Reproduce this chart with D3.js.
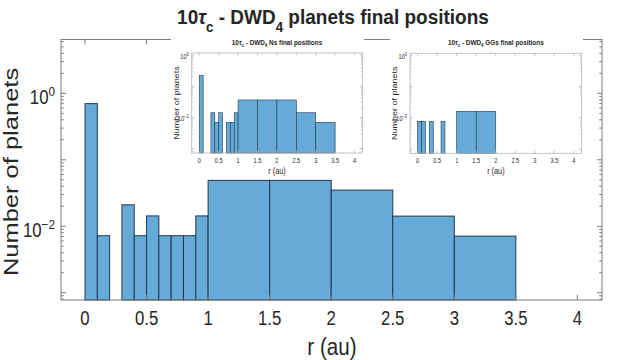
<!DOCTYPE html>
<html>
<head>
<meta charset="utf-8">
<script src="https://cdn.jsdelivr.net/npm/d3@7"></script>
<style>
  body { margin: 0; background: #fff; }
  svg { display: block; font-family: "Liberation Sans", Arial, sans-serif; }
</style>
</head>
<body>
<svg id="chart" width="622" height="360"></svg>
<script>
// histogram bin edges (au)
const binEdges = [0, 0.1, 0.2, 0.3, 0.4, 0.5, 0.6, 0.7, 0.8, 0.9, 1, 1.5, 2, 2.5, 3, 3.5];
// fraction of planets per bin
const allValues = [0.70, 0.0072, 0, 0.021, 0.0072, 0.0143, 0.0072, 0.0072, 0.0072, 0.0143, 0.049, 0.049, 0.035, 0.0142, 0.0071];
const nsValues  = [0.22, 0, 0, 0.014, 0.0069, 0.014, 0, 0.0069, 0.0069, 0.014, 0.036, 0.036, 0.036, 0.014, 0.0069];
const ggValues  = [0.0076, 0.0076, 0, 0.0076, 0, 0, 0.0076, 0, 0, 0, 0.0158, 0.0158, 0, 0, 0];
const xTickValues = [0, 0.5, 1, 1.5, 2, 2.5, 3, 3.5, 4];
const yLabelDecades = [0, -2];

const svg = d3.select("#chart");
const fill = "#66aad7", edge = "#1f3952", textCol = "#262626";

function bins(values) {
  return values.map((v, i) => ({ x0: binEdges[i], x1: binEdges[i + 1], v })).filter(d => d.v > 0);
}

// texte avec indices / exposants
function rich(sel, parts, size, shift) {
  let off = 0;
  parts.forEach(p => {
    const target = p.sub ? size * shift : p.sup ? -size * 0.42 : 0;
    sel.append("tspan")
      .attr("dy", target - off)
      .attr("font-size", (p.sub || p.sup) ? size * 0.7 : size)
      .attr("font-style", p.it ? "italic" : null)
      .text(p.t);
    off = target;
  });
}

function label(g, x, y, parts, size, o = {}) {
  const t = g.append("text")
    .attr("transform", `translate(${x},${y}) scale(${o.sx || 0.86},1)` + (o.rot ? " rotate(-90)" : ""))
    .attr("text-anchor", o.anchor || "middle")
    .attr("font-weight", o.bold ? "bold" : null)
    .attr("font-size", size)
    .attr("fill", textCol);
  rich(t, parts, size, o.shift || 0.3);
  return t;
}

// un axe complet: barres, cadre, graduations
function drawPanel(box, yDomain, values, o) {
  const x = d3.scaleLinear().domain([-0.195, 4.2]).range([box.left, box.right]);
  const y = d3.scaleLog().domain(yDomain).range([box.bottom, box.top]);
  const g = svg.append("g");

  g.append("rect").attr("x", box.left).attr("y", box.top)
    .attr("width", box.right - box.left).attr("height", box.bottom - box.top).attr("fill", "#fff");

  g.selectAll("rect.bar").data(bins(values)).enter().append("rect")
    .attr("class", "bar")
    .attr("x", d => x(d.x0))
    .attr("y", d => y(d.v))
    .attr("width", d => x(d.x1) - x(d.x0))
    .attr("height", d => box.bottom - y(d.v))
    .attr("fill", fill)
    .attr("stroke", edge)
    .attr("stroke-width", o.barStroke);

  // graduations x (bas et haut, vers l'intérieur)
  xTickValues.forEach(v => {
    g.append("line").attr("x1", x(v)).attr("x2", x(v)).attr("y1", box.bottom).attr("y2", box.bottom - o.tick)
      .attr("stroke", o.axis).attr("stroke-width", o.lw);
    g.append("line").attr("x1", x(v)).attr("x2", x(v)).attr("y1", box.top).attr("y2", box.top + o.tick)
      .attr("stroke", o.axis).attr("stroke-width", o.lw);
  });

  // graduations y log (majeures + mineures, gauche et droite)
  const lo = Math.floor(Math.log10(yDomain[0])), hi = Math.ceil(Math.log10(yDomain[1]));
  for (let d = lo; d <= hi; d++) {
    for (let m = 1; m <= 9; m++) {
      const v = m * Math.pow(10, d);
      if (v < yDomain[0] || v > yDomain[1]) continue;
      const len = m === 1 ? o.tick : o.tick * 0.55;
      [[box.left, 1], [box.right, -1]].forEach(([xx, s]) => {
        g.append("line").attr("x1", xx).attr("x2", xx + s * len).attr("y1", y(v)).attr("y2", y(v))
          .attr("stroke", o.axis).attr("stroke-width", o.lw);
      });
    }
  }

  g.append("rect").attr("x", box.left).attr("y", box.top)
    .attr("width", box.right - box.left).attr("height", box.bottom - box.top)
    .attr("fill", "none").attr("stroke", o.axis).attr("stroke-width", o.lw);

  // libellés des graduations
  xTickValues.forEach(v => label(g, x(v), box.bottom + o.xLabOff, [{ t: String(v) }], o.tickFont));
  yLabelDecades.forEach(d => label(g, box.left - o.yLabGap, y(Math.pow(10, d)) + o.tickFont * 0.55,
    [{ t: "10" }, { t: String(d).replace("-", "\u2212"), sup: true }], o.tickFont, { anchor: "end" }));

  return { g, x, y };
}

// --- graphique principal ---
const mainBox = { left: 61, right: 602, top: 39.5, bottom: 300 };
const main = drawPanel(mainBox, [Math.pow(10, -3.11), Math.pow(10, 0.81)], allValues,
  { barStroke: 1, axis: "#7d7d7d", lw: 1, tick: 5, tickFont: 19.5, xLabOff: 25, yLabGap: 6 });
label(svg, 332, 355, [{ t: "r (au)" }], 24);
label(svg, 18, 172, [{ t: "Number of planets" }], 25.5, { rot: true, sx: 0.8 });

// --- encarts ---
function inset(box, white, values, name) {
  svg.append("rect").attr("x", white[0]).attr("y", 28).attr("width", white[1] - white[0]).attr("height", 149).attr("fill", "#fff");
  const p = drawPanel(box, [Math.pow(10, -3.146), Math.pow(10, 0.064)], values,
    { barStroke: 0.6, axis: "#b5b5b5", lw: 0.8, tick: 2.5, tickFont: 6.5, xLabOff: 10, yLabGap: 3 });
  const cx = (box.left + box.right) / 2;
  label(svg, cx, 45, [{ t: "10" }, { t: "\u03c4", it: true }, { t: "c", sub: true }, { t: " - DWD" }, { t: "4", sub: true }, { t: " " + name + " final positions" }], 7.5, { bold: true, sx: 0.85 });
  label(svg, cx, 174, [{ t: "r (au)" }], 8.5);
  label(svg, box.left - 13, (box.top + box.bottom) / 2, [{ t: "Number of planets" }], 9, { rot: true, sx: 0.9 });
}
inset({ left: 191.7, right: 362.3, top: 53, bottom: 153 }, [171, 364], nsValues, "Ns");
inset({ left: 410, right: 581.7, top: 53.3, bottom: 153.3 }, [390, 583], ggValues, "GGs");

// --- titre ---
label(svg, 333, 24, [{ t: "10" }, { t: "\u03c4", it: true }, { t: "c", sub: true }, { t: " - DWD" }, { t: "4", sub: true }, { t: " planets final positions" }], 20, { bold: true, sx: 0.95, shift: 0.38 });
</script>
</body>
</html>
